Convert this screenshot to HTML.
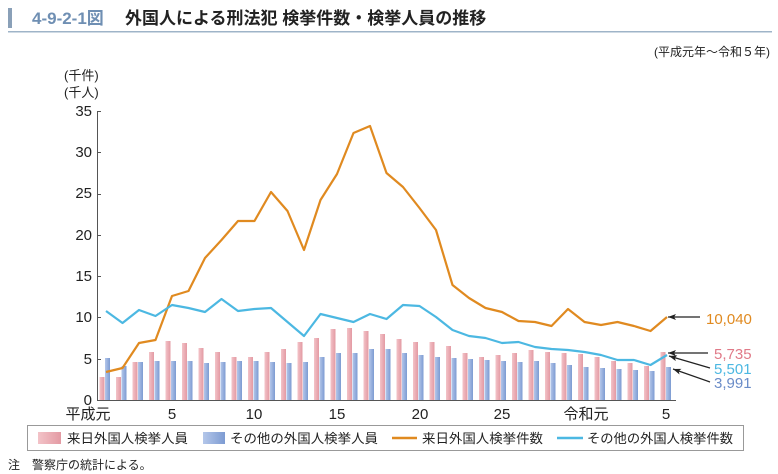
<!DOCTYPE html>
<html><head><meta charset="utf-8"><style>
body{margin:0;background:#fff;}
svg{display:block;font-family:"Liberation Sans","Noto Sans CJK JP",sans-serif;}
</style></head><body>
<svg width="778" height="474" viewBox="0 0 778 474" xmlns="http://www.w3.org/2000/svg">
<defs>
<linearGradient id="gp" x1="0" x2="1"><stop offset="0" stop-color="#f3c3c8"/><stop offset="1" stop-color="#e39aa3"/></linearGradient>
<linearGradient id="gb" x1="0" x2="1"><stop offset="0" stop-color="#b4c7ea"/><stop offset="1" stop-color="#7d9bd2"/></linearGradient>
<marker id="ah" markerWidth="8" markerHeight="6" refX="8" refY="3" orient="auto" markerUnits="userSpaceOnUse"><path d="M8,3 L0,0 L2,3 L0,6 Z" fill="#222"/></marker>
</defs>
<rect x="8" y="8" width="4" height="20" fill="#8aa0b8"/>
<text x="32" y="24" font-size="17" font-weight="bold" fill="#6f8fb3">4-9-2-1図</text>
<text x="125" y="24" font-size="17" font-weight="bold" fill="#222">外国人による刑法犯 検挙件数・検挙人員の推移</text>
<rect x="8" y="31" width="764" height="1.5" fill="#9fb4c8"/>
<text x="770" y="56" font-size="12" text-anchor="end" fill="#222">(平成元年～令和５年)</text>
<text x="64" y="80" font-size="13" fill="#222">(千件)</text>
<text x="64" y="97" font-size="13" fill="#222">(千人)</text>
<g font-size="15" fill="#222" text-anchor="end">
<text x="92" y="116">35</text><text x="92" y="157">30</text><text x="92" y="198">25</text><text x="92" y="240">20</text><text x="92" y="281">15</text><text x="92" y="322">10</text><text x="92" y="364">5</text><text x="92" y="405">0</text>
</g>
<g stroke="#555" stroke-width="1">
<line x1="97.5" y1="111" x2="97.5" y2="400"/>
<line x1="97" y1="400.5" x2="676" y2="400.5"/>
<line x1="97" y1="111.5" x2="101" y2="111.5"/><line x1="97" y1="152.5" x2="101" y2="152.5"/><line x1="97" y1="194.5" x2="101" y2="194.5"/><line x1="97" y1="235.5" x2="101" y2="235.5"/><line x1="97" y1="276.5" x2="101" y2="276.5"/><line x1="97" y1="317.5" x2="101" y2="317.5"/><line x1="97" y1="359.5" x2="101" y2="359.5"/>
</g>
<g id="bars"></g>
<polyline id="or" fill="none" stroke="#e08a20" stroke-width="2.2" stroke-linejoin="round"/>
<polyline id="cy" fill="none" stroke="#4cb8e2" stroke-width="2.2" stroke-linejoin="round"/>
<g font-size="15" fill="#222" text-anchor="middle">
<text x="88" y="419">平成元</text><text x="172" y="419">5</text><text x="254" y="419">10</text><text x="337" y="419">15</text><text x="420" y="419">20</text><text x="502" y="419">25</text><text x="586" y="419">令和元</text><text x="666" y="419">5</text>
</g>
<g stroke="#222" stroke-width="1.2" marker-end="url(#ah)">
<line x1="700" y1="317" x2="668" y2="317"/>
<line x1="708" y1="353" x2="668" y2="353"/>
<line x1="710" y1="368" x2="669" y2="356"/>
<line x1="710" y1="382" x2="673" y2="369"/>
</g>
<g font-size="15">
<text x="706" y="324" fill="#e08a20">10,040</text>
<text x="714" y="359" fill="#e07a88">5,735</text>
<text x="714" y="374" fill="#4cb8e2">5,501</text>
<text x="714" y="388" fill="#6a8cc8">3,991</text>
</g>
<rect x="27.5" y="425.5" width="716" height="25" fill="none" stroke="#999"/>
<rect x="38" y="432" width="23" height="12" fill="url(#gp)"/>
<text x="67" y="443" font-size="13" fill="#222" textLength="121" lengthAdjust="spacingAndGlyphs">来日外国人検挙人員</text>
<rect x="203" y="432" width="22" height="12" fill="url(#gb)"/>
<text x="230" y="443" font-size="13" fill="#222" textLength="148" lengthAdjust="spacingAndGlyphs">その他の外国人検挙人員</text>
<line x1="392" y1="438" x2="417" y2="438" stroke="#e08a20" stroke-width="2.5"/>
<text x="422" y="443" font-size="13" fill="#222" textLength="121" lengthAdjust="spacingAndGlyphs">来日外国人検挙件数</text>
<line x1="557" y1="438" x2="583" y2="438" stroke="#4cb8e2" stroke-width="2.5"/>
<text x="587" y="443" font-size="13" fill="#222" textLength="146" lengthAdjust="spacingAndGlyphs">その他の外国人検挙件数</text>
<text x="8" y="469" font-size="12" fill="#222">注　警察庁の統計による。</text>
</svg>
<script>
var pk=[377,377,362,352,341,343,348,352,357,357,352,349,342,338,329,328,331,334,339,342,342,346,353,357,355,353,350,352,353,354,357,361,363,366,352];
var bl=[358,366,362,361,361,361,363,362,361,361,362,363,362,357,353,353,349,349,353,355,357,358,359,360,361,362,361,363,365,367,368,369,370,371,367];
var or=[372,368,343,340,296,291,258,240,221,221,192,211,250,200,174,133,126,173,187,208,230,285,298,308,312,321,322,326,309,322,325,322,326,331,317];
var cy=[311,323,310,316,305,308,312,299,311,309,308,322,336,314,318,322,314,319,305,306,317,330,336,338,343,342,347,349,350,352,355,360,360,365,355];
var ns="http://www.w3.org/2000/svg",g=document.getElementById("bars"),po=[],pc=[];
for(var i=0;i<35;i++){var c=106+i*16.5;
var r=document.createElementNS(ns,"rect");r.setAttribute("x",c-6.5);r.setAttribute("y",pk[i]);r.setAttribute("width",5);r.setAttribute("height",400-pk[i]);r.setAttribute("fill","url(#gp)");g.appendChild(r);
r=document.createElementNS(ns,"rect");r.setAttribute("x",c-1);r.setAttribute("y",bl[i]);r.setAttribute("width",5);r.setAttribute("height",400-bl[i]);r.setAttribute("fill","url(#gb)");g.appendChild(r);
po.push(c+","+or[i]);pc.push(c+","+cy[i]);}
document.getElementById("or").setAttribute("points",po.join(" "));
document.getElementById("cy").setAttribute("points",pc.join(" "));
</script>
</body></html>
